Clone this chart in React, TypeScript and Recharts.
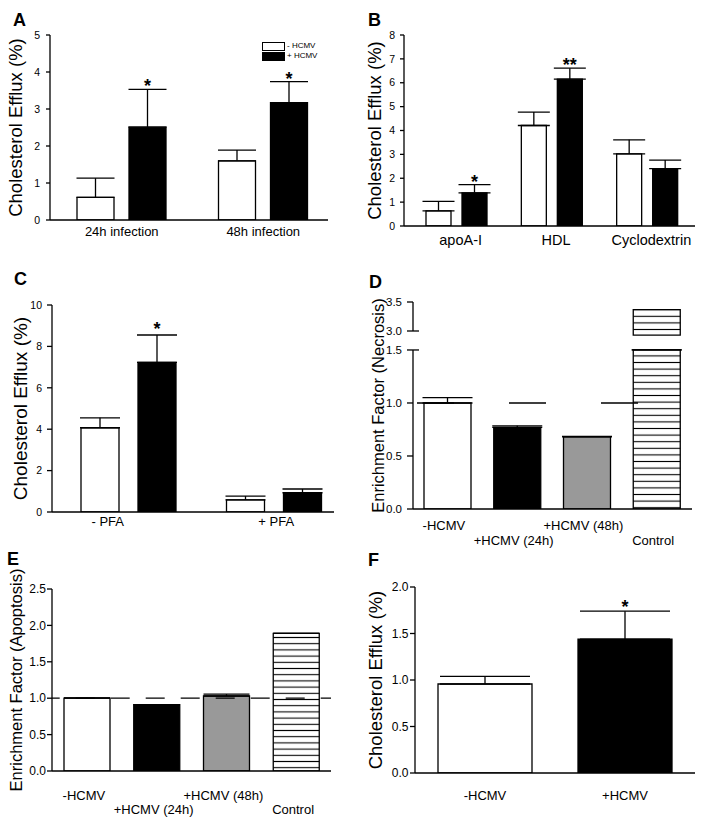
import React from "react";
import {
  BarChart,
  Bar,
  XAxis,
  YAxis,
  ErrorBar,
  LabelList,
  Legend,
  ReferenceLine,
  Cell,
  Label,
} from "recharts";

const FONT = '"Liberation Sans", Arial, Helvetica, sans-serif';
const INK = "#000";
const AX = { stroke: INK, strokeWidth: 1.3 };

// A - efflux after infection
const infectionTimes = ["24h infection", "48h infection"];
const effluxMockA = [0.61, 1.6];
const effluxHcmvA = [2.51, 3.17];
const semMockA = [0.52, 0.29];
const semHcmvA = [1.02, 0.57];
const starsA = ["*", "*"];

// B - acceptors
const acceptors = ["apoA-I", "HDL", "Cyclodextrin"];
const effluxMockB = [0.63, 4.21, 3.02];
const effluxHcmvB = [1.39, 6.15, 2.4];
const semMockB = [0.4, 0.56, 0.59];
const semHcmvB = [0.34, 0.46, 0.36];
const starsB = ["*", "**", ""];

// C - fixation
const fixation = ["- PFA", "+ PFA"];
const effluxMockC = [4.07, 0.59];
const effluxHcmvC = [7.23, 0.93];
const semMockC = [0.48, 0.18];
const semHcmvC = [1.32, 0.18];
const starsC = ["*", ""];

// D / E - enrichment factors
const conditions = ["-HCMV", "+HCMV (24h)", "+HCMV (48h)", "Control"];
const necrosis = [1.0, 0.77, 0.68, 3.37];
const semNecrosis = [0.05, 0.015, 0.005, 0];
const necrosisTicks = [0, 0.5, 1.0, 1.5, 3.0, 3.5];
const apoptosis = [1.0, 0.91, 1.03, 1.89];
const semApoptosis = [0.005, 0, 0.025, 0];
const apoptosisTicks = [0, 0.5, 1.0, 1.5, 2.0, 2.5];

// F
const infection = ["-HCMV", "+HCMV"];
const effluxF = [0.957, 1.44];
const semF = [0.083, 0.3];
const effluxTicksF = [0, 0.5, 1.0, 1.5, 2.0];
const starsF = ["", "*"];

const seriesKeys = ["mock", "hcmv"];
const conditionFills = ["#fff", "#000", "#999", "url(#stripes)"];

// broken axis for D
const BREAK_LOW = 1.5;
const BREAK_HIGH = 3.0;
const BREAK_GAP = 0.179;
const UPPER_SCALE = 0.547;
const CONTROL_CUT = 2.93;
const brk = (v: number) => (v <= BREAK_LOW ? v : BREAK_LOW + BREAK_GAP + (v - BREAK_HIGH) * UPPER_SCALE);
const unbrk = (d: number) => (d <= BREAK_LOW + 1e-6 ? d : BREAK_HIGH + (d - BREAK_LOW - BREAK_GAP) / UPPER_SCALE);

const pair = (cats: string[], mock: number[], hcmv: number[], sM: number[], sH: number[], stars: string[]) =>
  cats.map((name, i) => ({
    name,
    mock: mock[i],
    hcmv: hcmv[i],
    mockErr: [0, sM[i]],
    hcmvErr: [0, sH[i]],
    star: stars[i],
  }));

const dataA = pair(infectionTimes, effluxMockA, effluxHcmvA, semMockA, semHcmvA, starsA);
const dataB = pair(acceptors, effluxMockB, effluxHcmvB, semMockB, semHcmvB, starsB);
const dataC = pair(fixation, effluxMockC, effluxHcmvC, semMockC, semHcmvC, starsC);

const dataD = conditions.map((name, i) => {
  const v = necrosis[i];
  const broken = v > BREAK_HIGH;
  return {
    name,
    low: broken ? BREAK_LOW : v,
    gap: broken ? brk(CONTROL_CUT) - BREAK_LOW : null,
    high: broken ? brk(v) - brk(CONTROL_CUT) : null,
    err: [0, semNecrosis[i]],
  };
});

const dataE = conditions.map((name, i) => ({ name, value: apoptosis[i], err: [0, semApoptosis[i]] }));
const dataF = infection.map((name, i) => ({ name, value: effluxF[i], err: [0, semF[i]], star: starsF[i] }));

// star sits above the top of the error bar
const starLabel = (vals: number[], sems: number[], gap: number) => (p: any) => {
  const i = p.index;
  const vb = p.viewBox || p;
  if (!p.value || i == null) return null;
  const top = vb.y - (sems[i] * vb.height) / vals[i];
  return (
    <text key={`s${i}`} x={vb.x + vb.width / 2} y={top - gap + 7} textAnchor="middle" fontSize={18} fontWeight="bold" fill={INK}>
      {p.value}
    </text>
  );
};

const staggerTick = (row1: number, row2: number, dx: number) => (p: any) => {
  const i = conditions.indexOf(p.payload.value);
  return (
    <text x={p.x + dx} y={p.y + (i % 2 ? row2 : row1)} textAnchor="middle" fontSize={13} fill={INK}>
      {p.payload.value}
    </text>
  );
};

// the "- PFA" label sits left of its group in the original
const fixationShift = [-21, 2];
const fixationTick = (p: any) => {
  const i = fixation.indexOf(p.payload.value);
  return (
    <text x={p.x + fixationShift[i]} y={p.y} dy="0.71em" textAnchor="middle" fontSize={13} fill={INK}>
      {p.payload.value}
    </text>
  );
};

const breakTick = (p: any) => {
  const v = unbrk(p.payload.value);
  const cross = Math.abs(v - BREAK_LOW) < 1e-3 || Math.abs(v - BREAK_HIGH) < 1e-3;
  const ax = p.x + 11;
  return (
    <g>
      <text x={p.x} y={p.y} dy="0.355em" textAnchor="end" fontSize={11.5} fill={INK}>
        {v.toFixed(1)}
      </text>
      {cross && <line x1={ax} x2={ax + 6} y1={p.y} y2={p.y} stroke={INK} strokeWidth={1.3} />}
    </g>
  );
};

const legendSwatch = ["#fff", "#000"];
const legendA = (p: any) => {
  const items = [...(p.payload || [])].sort(
    (a: any, b: any) => seriesKeys.indexOf(a.dataKey) - seriesKeys.indexOf(b.dataKey)
  );
  return (
    <div style={{ fontSize: 8, lineHeight: "10px", fontFamily: FONT, color: INK }}>
      {items.map((e: any, i: number) => (
        <div key={i} style={{ display: "flex", alignItems: "center", height: 10 }}>
          <span style={{ display: "inline-block", width: 21, height: 7, border: `1px solid ${INK}`, background: legendSwatch[seriesKeys.indexOf(e.dataKey)], marginRight: 2 }} />
          <span style={{ color: INK }}>{e.value}</span>
        </div>
      ))}
    </div>
  );
};

const stripes = (id: string, step: number) => (
  <defs>
    <pattern id={id} width={8} height={step} patternUnits="userSpaceOnUse">
      <rect width={8} height={step} fill="#fff" />
      <line x1={0} x2={8} y1={step / 2} y2={step / 2} stroke={INK} strokeWidth={1.1} />
    </pattern>
  </defs>
);

const yTitle = (value: string, offset: number, size: number) => (
  <Label value={value} angle={-90} position="insideLeft" offset={offset} fontSize={size} fill={INK} style={{ textAnchor: "middle" }} />
);

const frameTop = <XAxis xAxisId="top" orientation="top" dataKey="name" height={0} tick={false} tickLine={false} axisLine={AX} />;
const frameRight = <YAxis yAxisId="r" orientation="right" width={0} domain={[0, 1]} tick={false} tickLine={false} axisLine={AX} />;

const at = (left: number, top: number): React.CSSProperties => ({ position: "absolute", left, top });

const letter = (t: string, left: number, top: number) => (
  <div style={{ ...at(left, top), fontSize: 18, lineHeight: "18px", fontWeight: "bold" }}>{t}</div>
);

const bar = { stroke: INK, strokeWidth: 1.3, isAnimationActive: false };
const err = { stroke: INK, strokeWidth: 1.3, direction: "y" as const };

export default function App() {
  return (
    <div style={{ position: "absolute", left: 0, top: 0, width: 704, height: 823, background: "#fff", fontFamily: FONT, color: INK }}>
      {letter("A", 13, 10.6)}
      {letter("B", 368, 10.6)}
      {letter("C", 14, 269.7)}
      {letter("D", 369, 272.7)}
      {letter("E", 7, 549.7)}
      {letter("F", 368, 550.6)}

      {/* A */}
      <div style={at(0, 0)}>
        <BarChart width={340} height={270} data={dataA} margin={{ top: 35, right: 12, bottom: 0, left: 0 }} barSize={37} barGap={15}>
          <XAxis dataKey="name" height={50} tickSize={0} tickMargin={7} tickLine={false} axisLine={AX} interval={0} padding={{ left: 1, right: -6 }} tick={{ fontSize: 13, fill: INK }} />
          {frameTop}
          <YAxis width={50} type="number" domain={[0, 5]} ticks={[0, 1, 2, 3, 4, 5]} allowDataOverflow tickSize={4} tickMargin={6} tickLine={AX} axisLine={AX} tick={{ fontSize: 10.5, fill: INK }}>
            {yTitle("Cholesterol Efflux (%)", 15, 18.5)}
          </YAxis>
          {frameRight}
          <Legend layout="horizontal" verticalAlign="middle" align="center" content={legendA} wrapperStyle={{ top: 41, left: 262, width: 70, height: 22 }} />
          <Bar dataKey="mock" name="- HCMV" fill="#fff" {...bar}>
            <ErrorBar dataKey="mockErr" width={19} {...err} />
          </Bar>
          <Bar dataKey="hcmv" name="+ HCMV" fill="#000" {...bar}>
            <ErrorBar dataKey="hcmvErr" width={19} {...err} />
            <LabelList dataKey="star" content={starLabel(effluxHcmvA, semHcmvA, 4)} />
          </Bar>
        </BarChart>
      </div>

      {/* B */}
      <div style={at(352, 0)}>
        <BarChart width={352} height={270} data={dataB} margin={{ top: 35, right: 9, bottom: 0, left: 0 }} barSize={25} barGap={11}>
          <XAxis dataKey="name" height={44} tickSize={0} tickMargin={9} tickLine={false} axisLine={AX} interval={0} padding={{ left: 5, right: 0 }} tick={{ fontSize: 14.5, fill: INK, dx: 4 }} />
          <YAxis width={52} type="number" domain={[0, 8]} ticks={[0, 1, 2, 3, 4, 5, 6, 7, 8]} allowDataOverflow tickSize={4} tickMargin={5} tickLine={AX} axisLine={AX} tick={{ fontSize: 10.5, fill: INK }}>
            {yTitle("Cholesterol Efflux (%)", 22, 18.5)}
          </YAxis>
          <Bar dataKey="mock" fill="#fff" {...bar}>
            <ErrorBar dataKey="mockErr" width={16} {...err} />
          </Bar>
          <Bar dataKey="hcmv" fill="#000" {...bar}>
            <ErrorBar dataKey="hcmvErr" width={16} {...err} />
            <LabelList dataKey="star" content={starLabel(effluxHcmvB, semHcmvB, 4)} />
          </Bar>
        </BarChart>
      </div>

      {/* C */}
      <div style={at(0, 280)}>
        <BarChart width={340} height={260} data={dataC} margin={{ top: 25, right: 6, bottom: 0, left: 0 }} barSize={38} barGap={19}>
          <XAxis dataKey="name" height={28} tickSize={0} tickMargin={5} tickLine={false} axisLine={AX} interval={0} padding={{ left: 4, right: -13 }} tick={fixationTick} />
          {frameTop}
          <YAxis width={52} type="number" domain={[0, 10]} ticks={[0, 2, 4, 6, 8, 10]} allowDataOverflow tickSize={5} tickMargin={5} tickLine={AX} axisLine={AX} tick={{ fontSize: 10.5, fill: INK }}>
            {yTitle("Cholesterol Efflux (%)", 20, 19)}
          </YAxis>
          {frameRight}
          <Bar dataKey="mock" fill="#fff" {...bar}>
            <ErrorBar dataKey="mockErr" width={20} {...err} />
          </Bar>
          <Bar dataKey="hcmv" fill="#000" {...bar}>
            <ErrorBar dataKey="hcmvErr" width={20} {...err} />
            <LabelList dataKey="star" content={starLabel(effluxHcmvC, semHcmvC, 7)} />
          </Bar>
        </BarChart>
      </div>

      {/* D */}
      <div style={at(352, 280)}>
        <BarChart width={352} height={270} data={dataD} margin={{ top: 22, right: 12, bottom: 0, left: 0 }} barSize={47}>
          {stripes("stripes", 6.6)}
          <XAxis dataKey="name" height={41} tickSize={0} tickMargin={0} tickLine={false} axisLine={AX} interval={0} tick={staggerTick(21.3, 36, -4)} />
          {frameTop}
          <YAxis width={61} type="number" domain={[0, brk(3.5)]} ticks={necrosisTicks.map(brk)} allowDataOverflow interval={0} tickSize={6} tickMargin={5} tickLine={AX} axisLine={{ ...AX, strokeDasharray: "29 19 220" }} tick={breakTick}>
            {yTitle("Enrichment Factor (Necrosis)", 26, 16.5)}
          </YAxis>
          {frameRight}
          <Bar dataKey="low" stackId="d" {...bar}>
            {conditions.map((c, i) => (
              <Cell key={c} fill={conditionFills[i]} />
            ))}
            <ErrorBar dataKey="err" width={25} {...err} />
          </Bar>
          <Bar dataKey="gap" stackId="d" fill="none" stroke="none" isAnimationActive={false} />
          <Bar dataKey="high" stackId="d" fill="url(#stripes)" {...bar} />
          <ReferenceLine y={1} stroke={INK} strokeWidth={1.3} strokeDasharray="37 55" strokeDashoffset={88} />
        </BarChart>
      </div>

      {/* E */}
      <div style={at(0, 560)}>
        <BarChart width={340} height={263} data={dataE} margin={{ top: 29, right: 9, bottom: 0, left: 0 }} barSize={46}>
          {stripes("stripesE", 6.2)}
          <XAxis dataKey="name" height={52} tickSize={0} tickMargin={0} tickLine={false} axisLine={AX} interval={0} tick={staggerTick(29.3, 43, -3)} />
          {frameTop}
          <YAxis width={52} type="number" domain={[0, 2.5]} ticks={apoptosisTicks} allowDataOverflow tickSize={5} tickMargin={1} tickLine={AX} axisLine={AX} tickFormatter={(v: number) => v.toFixed(1)} tick={{ fontSize: 12, fill: INK }}>
            {yTitle("Enrichment Factor (Apoptosis)", 16, 16.5)}
          </YAxis>
          {frameRight}
          <Bar dataKey="value" {...bar}>
            {conditions.map((c, i) => (
              <Cell key={c} fill={i === 3 ? "url(#stripesE)" : conditionFills[i]} />
            ))}
            <ErrorBar dataKey="err" width={23} {...err} />
          </Bar>
          <ReferenceLine y={1} stroke={INK} strokeWidth={1.3} strokeDasharray="19 16" strokeDashoffset={11.3} />
        </BarChart>
      </div>

      {/* F */}
      <div style={at(352, 560)}>
        <BarChart width={352} height={263} data={dataF} margin={{ top: 27, right: 9, bottom: 0, left: 0 }} barSize={94}>
          <XAxis dataKey="name" height={50} tickSize={0} tickMargin={18} tickLine={false} axisLine={AX} interval={0} tick={{ fontSize: 13, fill: INK }} />
          {frameTop}
          <YAxis width={63} type="number" domain={[0, 2]} ticks={effluxTicksF} allowDataOverflow tickSize={5} tickMargin={1.5} tickLine={AX} axisLine={AX} tickFormatter={(v: number) => v.toFixed(1)} tick={{ fontSize: 12, fill: INK }}>
            {yTitle("Cholesterol Efflux (%)", 23, 18.5)}
          </YAxis>
          {frameRight}
          <Bar dataKey="value" {...bar}>
            {infection.map((c, i) => (
              <Cell key={c} fill={legendSwatch[i]} />
            ))}
            <ErrorBar dataKey="err" width={45} {...err} />
            <LabelList dataKey="star" content={starLabel(effluxF, semF, 5)} />
          </Bar>
        </BarChart>
      </div>
    </div>
  );
}
